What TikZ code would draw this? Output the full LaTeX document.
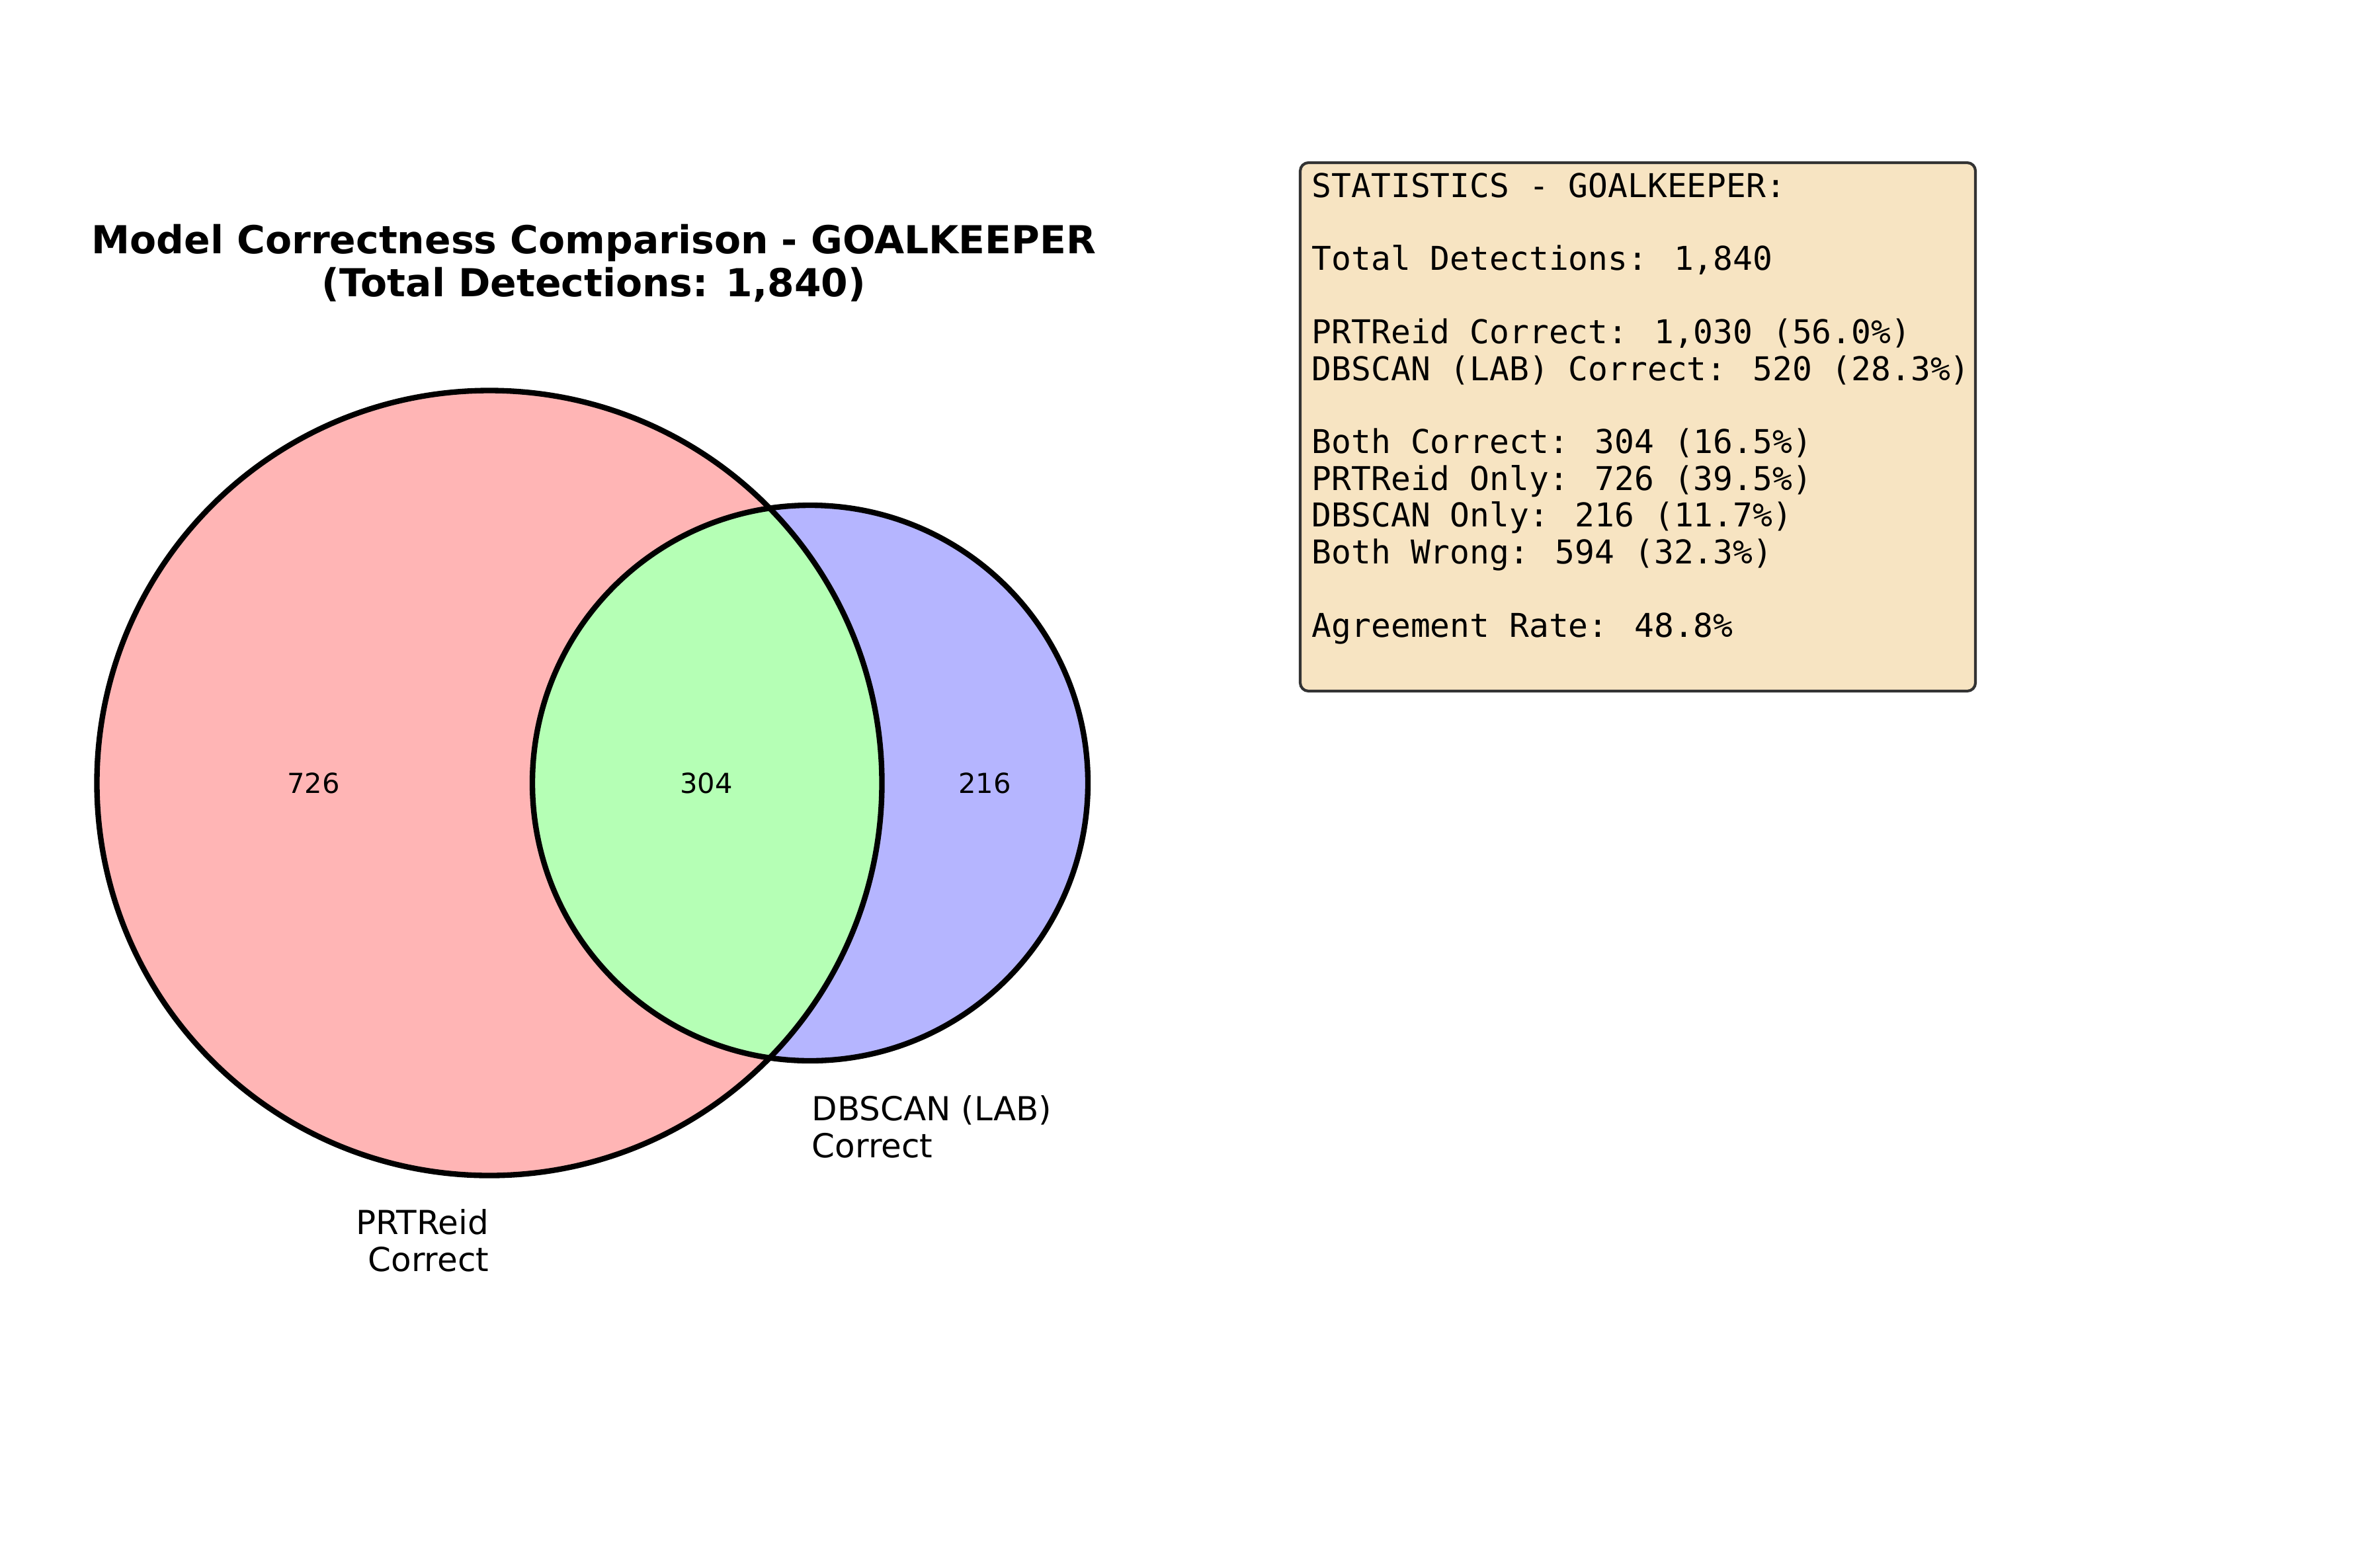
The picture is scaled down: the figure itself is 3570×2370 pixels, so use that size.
\documentclass[tikz,border=0pt]{standalone}
\usepackage{fontspec}
\setmainfont{DejaVu Sans}
\newfontfamily\statfont{DejaVu Sans Mono}
\usepackage{tikz}

\definecolor{prtred}{RGB}{255,181,181}
\definecolor{dbblue}{RGB}{181,181,255}
\definecolor{bothgreen}{RGB}{181,255,181}
\definecolor{wheatbox}{RGB}{247,228,194}
\definecolor{boxedge}{RGB}{51,51,51}

\begin{document}
\begin{tikzpicture}[x=0.24pt, y=-0.24pt,
    setline/.style={line width=2pt},
    count/.style={font=\fontsize{10}{12}\selectfont, inner sep=0pt},
    setlabel/.style={font=\fontsize{12}{13.3}\selectfont, inner sep=0pt},
    statbox/.style={fill=wheatbox, draw=boxedge, line width=1pt, rounded corners=3pt},
    stattext/.style={font=\statfont\fontsize{11.9}{13.3}\selectfont, align=left, inner sep=0pt}]
    \useasboundingbox (0,0) rectangle (3570,2370);

    % Set centres
    \coordinate (prtc) at (740,1184);
    \coordinate (dbc) at (1225,1184);

    % Fill the regions
    \fill[prtred] (prtc) circle [radius=593.5];
    \fill[dbblue] (dbc) circle [radius=420];
    \begin{scope}
        \clip (prtc) circle [radius=593.5];
        \fill[bothgreen] (dbc) circle [radius=420];
    \end{scope}

    % Draw outlines
    \draw[setline] (prtc) circle [radius=593.5];
    \draw[setline] (dbc) circle [radius=420];

    % Region counts
    \node[count] (prtonly) at (474,1184) {726};
    \node[count] (both) at (1068,1184) {304};
    \node[count] (dbonly) at (1489,1184) {216};

    % Set labels (base = last line)
    \node[setlabel, anchor=base east, align=right] (prtlabel) at (740,1922) {PRTReid\\ Correct};
    \node[setlabel, anchor=base west, align=left] (dblabel) at (1227,1750) {DBSCAN (LAB)\\Correct};

    % Title
    \node[font=\fontsize{14}{15.6}\selectfont\bfseries, align=center, anchor=base, inner sep=0pt] (title) at (898,448)
        {Model Correctness Comparison - GOALKEEPER\\(Total Detections: 1,840)};

    % Statistics box
    \draw[statbox] (1966,246) rectangle (2987,1045);
    \node[stattext, anchor=base west] (stats) at (1983,963) {STATISTICS - GOALKEEPER:\\[13.3pt]
        Total Detections: 1,840\\[13.3pt]
        PRTReid Correct: 1,030 (56.0\%)\\
        DBSCAN (LAB) Correct: 520 (28.3\%)\\[13.3pt]
        Both Correct: 304 (16.5\%)\\
        PRTReid Only: 726 (39.5\%)\\
        DBSCAN Only: 216 (11.7\%)\\
        Both Wrong: 594 (32.3\%)\\[13.3pt]
        Agreement Rate: 48.8\%};
\end{tikzpicture}
\end{document}
